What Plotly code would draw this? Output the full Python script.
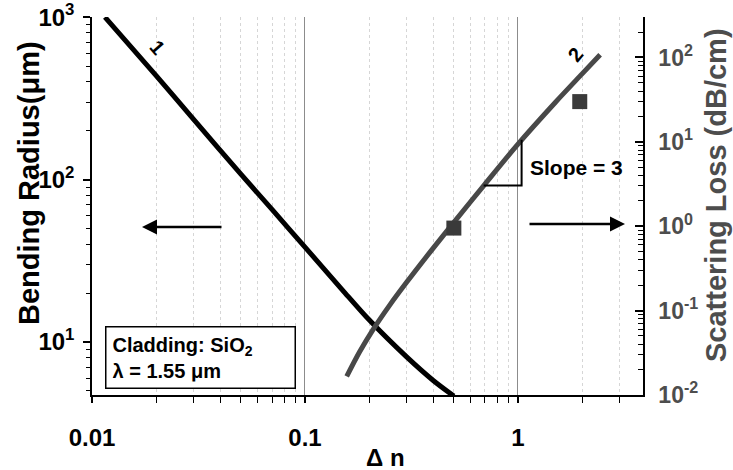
import plotly.graph_objects as go

# ---- data ----
dn_bend = [0.0115, 0.02, 0.03, 0.05, 0.07, 0.1, 0.15, 0.2, 0.3, 0.4, 0.5]
bend_radius = [1000, 436, 235, 108, 65.5, 38.4, 20.9, 13.7, 8.1, 5.8, 4.65]

dn_loss = [0.157, 0.18, 0.208, 0.25, 0.3, 0.4, 0.5, 0.7, 1.0, 1.5, 2.0, 2.43]
scat_loss = [0.0166, 0.032, 0.0587, 0.116, 0.216, 0.55, 1.11, 3.16, 9.4, 29.5, 64, 108]

dn_meas = [0.5, 1.95]
loss_meas = [0.95, 30]

slope_x = [0.69, 1.04, 1.04]
slope_y = [3.03, 3.03, 10.6]

x_tickvals = [0.01, 0.1, 1]
x_ticktext = ["<b>0.01</b>", "<b>0.1</b>", "<b>1</b>"]
yl_tickvals = [10, 100, 1000]
yl_ticktext = ["<b>10<sup>1</sup></b>", "<b>10<sup>2</sup></b>", "<b>10<sup>3</sup></b>"]
yr_tickvals = [0.01, 0.1, 1, 10, 100]
yr_ticktext = ["<b>10<sup>-2</sup></b>", "<b>10<sup>-1</sup></b>", "<b>10<sup>0</sup></b>",
               "<b>10<sup>1</sup></b>", "<b>10<sup>2</sup></b>"]

def minors(decades):
    return [m * d for d in decades for m in range(2, 10)]

FONT = "Liberation Sans, Arial, sans-serif"
GRAY = "#4d4d4d"

fig = go.Figure()
fig.add_trace(go.Scatter(x=dn_bend, y=bend_radius, mode="lines",
                         line=dict(color="black", width=5, shape="spline", smoothing=0.8),
                         yaxis="y", showlegend=False))
fig.add_trace(go.Scatter(x=dn_loss, y=scat_loss, mode="lines",
                         line=dict(color="#484848", width=5, shape="spline", smoothing=0.8),
                         yaxis="y2", showlegend=False))
fig.add_trace(go.Scatter(x=dn_meas, y=loss_meas, mode="markers",
                         marker=dict(symbol="square", size=15, color="#3a3a3a"),
                         yaxis="y2", showlegend=False))
fig.add_trace(go.Scatter(x=slope_x, y=slope_y, mode="lines",
                         line=dict(color="black", width=2),
                         yaxis="y2", showlegend=False))

fig.update_layout(
    width=733, height=470,
    margin=dict(l=92, r=90, t=17, b=75, autoexpand=False),
    paper_bgcolor="white", plot_bgcolor="white",
    font=dict(family=FONT, color="black"),
    xaxis=dict(type="log", range=[-2, 0.587], automargin=False,
               tickvals=x_tickvals, ticktext=x_ticktext,
               tickfont=dict(size=24, color="black"),
               ticks="outside", ticklen=6, tickwidth=1.5, tickcolor="black",
               ticklabelstandoff=14,
               showline=True, linecolor="black", linewidth=1.5,
               showgrid=True, gridcolor="#8c8c8c", gridwidth=1,
               zeroline=False,
               minor=dict(tickvals=minors([0.01, 0.1, 1]), ticks="outside",
                          ticklen=6, tickcolor="black", tickwidth=1.2,
                          showgrid=True, gridcolor="#d6d6d6", griddash="dot",
                          gridwidth=1)),
    yaxis=dict(type="log", range=[0.674, 3.001], automargin=False,
               tickvals=yl_tickvals, ticktext=yl_ticktext,
               tickfont=dict(size=24, color="black"),
               ticks="outside", ticklen=7, tickwidth=1.5, tickcolor="black",
               ticklabelstandoff=4,
               showline=True, linecolor="black", linewidth=1.5,
               showgrid=False, zeroline=False,
               minor=dict(tickvals=minors([1, 10, 100]), ticks="outside",
                          ticklen=4, tickcolor="black", tickwidth=1.2)),
    yaxis2=dict(type="log", range=[-2.001, 2.48], overlaying="y", side="right",
                automargin=False,
                tickvals=yr_tickvals, ticktext=yr_ticktext,
                tickfont=dict(size=23, color=GRAY),
                ticks="inside", ticklen=8, tickwidth=1.5, tickcolor="black",
                ticklabelstandoff=9,
                showline=True, linecolor="black", linewidth=1.5,
                showgrid=False, zeroline=False,
                minor=dict(tickvals=minors([0.01, 0.1, 1, 10, 100]), ticks="inside",
                           ticklen=5, tickcolor="black", tickwidth=1.2)),
)

def px2paper(px, py):
    return (px - 92) / 551.0, (395 - py) / 378.0

def ann(px, py, text, size, color="black", angle=0, xanchor="center"):
    x, y = px2paper(px, py)
    return dict(x=x, y=y, xref="paper", yref="paper", text=text, textangle=angle,
                xanchor=xanchor, yanchor="middle", showarrow=False,
                font=dict(size=size, color=color))

anns = [
    ann(29, 183, "<b>Bending Radius(μm)</b>", 29, angle=-90),
    ann(716, 195, "<b>Scattering Loss (dB/cm)</b>", 29, color=GRAY, angle=-90),
    ann(385, 457, "<b>Δ n</b>", 24),
    ann(157, 47, "<b>1</b>", 20, angle=49),
    ann(575, 55, "<b>2</b>", 20, angle=-50),
    ann(528, 168, "<b>Slope = 3</b>", 21, xanchor="left"),
]
# arrows
x, y = px2paper(142, 227)
anns.append(dict(x=x, y=y, xref="paper", yref="paper", text="", showarrow=True,
                 ax=81, ay=0, arrowhead=2, arrowsize=1.2, arrowwidth=2.5, arrowcolor="black"))
x, y = px2paper(625, 224)
anns.append(dict(x=x, y=y, xref="paper", yref="paper", text="", showarrow=True,
                 ax=-97, ay=0, arrowhead=2, arrowsize=1.2, arrowwidth=2.5, arrowcolor="black"))
# cladding box
x, y = px2paper(105, 389)
anns.append(dict(x=x, y=y, xref="paper", yref="paper", xanchor="left", yanchor="bottom",
                 text="<b>Cladding: SiO<sub>2</sub></b><br><b>λ = 1.55 μm</b>",
                 align="left", showarrow=False, bordercolor="black", borderwidth=1.5,
                 borderpad=6, bgcolor="white", width=176, height=48,
                 font=dict(size=20, color="black")))
fig.update_layout(annotations=anns)

fig.write_html("out.html", config={"displayModeBar": False},
               post_script="document.body.style.margin='0px';")
